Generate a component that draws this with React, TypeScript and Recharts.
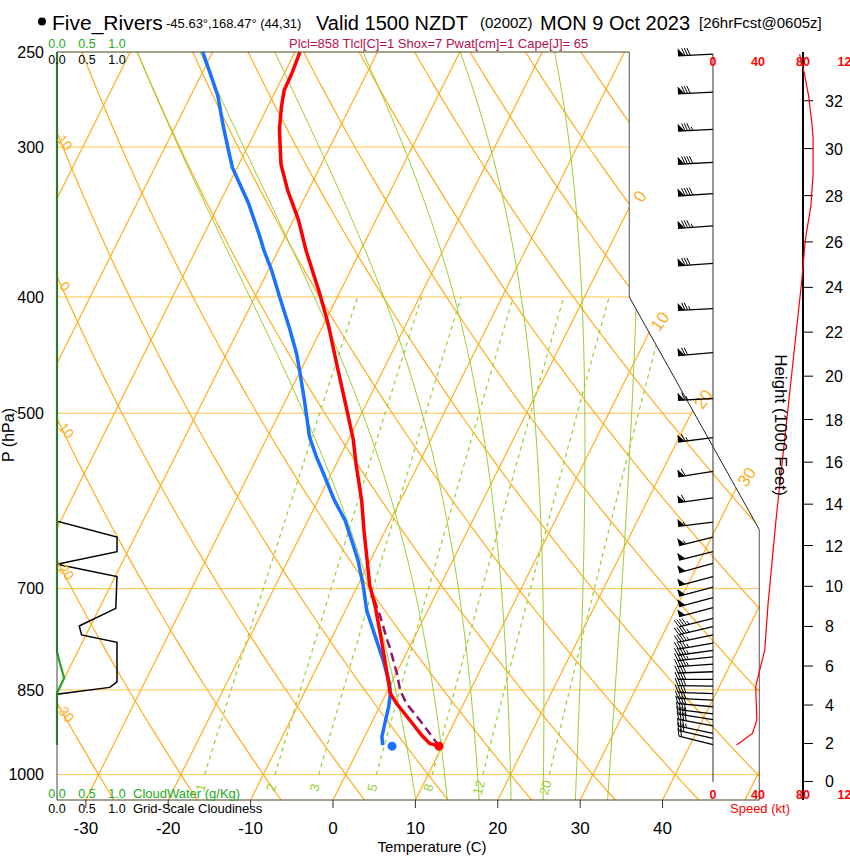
import React from 'react';
import { ComposedChart, Line, XAxis, YAxis, Scatter, ReferenceLine } from 'recharts';

// ---- sounding (hPa, deg C) ----
const TEMP_P = [250, 260, 269, 278, 290, 310, 326, 345, 366, 397, 421, 452, 488, 526, 551, 591, 626, 663, 695, 723, 773, 824, 856, 873, 901, 927, 942, 947];
const TEMP_C = [-49.4, -49.1, -49.0, -48.3, -47.2, -44.9, -42.5, -39.4, -36.6, -32.4, -29.5, -26.3, -22.8, -19.4, -17.6, -14.7, -12.6, -10.4, -8.6, -6.7, -3.8, -1.1, 0.5, 1.9, 4.5, 6.8, 8.3, 9.6];
const DEW_P = [250, 260, 272, 287, 300, 312, 322, 334, 356, 366, 380, 400, 424, 446, 463, 488, 523, 544, 561, 591, 614, 638, 663, 695, 730, 773, 803, 840, 856, 878, 904, 930, 945];
const DEW_C = [-61.2, -59.1, -56.7, -54.4, -52.4, -50.6, -48.7, -46.5, -43.1, -41.7, -39.6, -37.0, -34.0, -31.5, -29.9, -27.7, -24.9, -22.8, -21.0, -18.0, -15.5, -13.5, -11.5, -9.4, -7.4, -4.4, -2.4, -0.2, 0.5, 1.1, 1.6, 2.1, 2.7];
const PARCEL_P = [947, 930, 901, 873, 851, 824, 783, 773, 737, 713];
const PARCEL_C = [9.6, 8.2, 5.7, 3.1, 1.5, 0.1, -2.4, -3.1, -5.5, -7.3];
const SFC_P = 947;
const SFC_T = 9.6;
const SFC_TD = 3.9;

// wind speed profile (kt)
const SPD_P = [945, 924, 901, 845, 829, 788, 720, 614, 387, 359, 354, 336, 316, 295, 287, 272, 260, 251];
const SPD_KT = [21, 35, 39, 38, 40, 46, 49, 56, 79, 82, 83, 87, 89, 89, 88, 85, 81, 77];

// wind barbs
const BARB_P = [251, 270, 290, 309, 328, 349, 375, 409, 445, 486, 524, 559, 588, 616, 634, 652, 667, 684, 698, 712, 726, 741, 753, 765, 777, 788, 798, 809, 821, 833, 844, 856, 867, 878, 890, 900, 911, 924, 933, 944];
const BARB_KT = [78, 82, 86, 89, 88, 84, 80, 77, 72, 67, 63, 60, 58, 56, 53, 51, 50, 49, 49, 48, 48, 47, 47, 46, 46, 46, 45, 43, 42, 40, 39, 38, 38, 38, 39, 39, 38, 35, 30, 22];
const BARB_DIR = [267, 267, 267, 267, 266, 266, 266, 267, 265, 267, 263, 261, 262, 263, 256, 256, 255, 255, 255, 255, 255, 256, 257, 258, 260, 262, 264, 266, 268, 270, 271, 272, 273, 275, 277, 279, 281, 282, 283, 284];

// cloud profiles (0..1 cloudiness, g/kg cloud water)
const CLD_P = [250, 615, 634, 652, 668, 684, 727, 752, 765, 776, 837, 846, 857, 945];
const CLD_V = [0, 0, 1, 1, 0, 1, 0.98, 0.37, 0.41, 1, 1, 0.88, 0, 0];
const CW_P = [250, 790, 808, 831, 839, 855, 945];
const CW_V = [0, 0, 0.05, 0.12, 0.08, 0, 0];

// axes / reference families
const P_TICKS = [250, 300, 400, 500, 700, 850, 1000];
const T_TICKS = [-30, -20, -10, 0, 10, 20, 30, 40];
const ISOBARS = [300, 400, 500, 700, 850, 1000];
const ISOTHERMS = [-80, -70, -60, -50, -40, -30, -20, -10, 0, 10, 20, 30, 40, 50];
const THETAS = [-40, -30, -20, -10, 0, 10, 20, 30, 40, 50, 60, 70, 80, 90, 100, 110, 120, 130];
const THETA_W = [8, 12, 16, 20, 24, 28, 32];
const MIX_RATIOS = [1, 2, 3, 5, 8, 12, 20];
const ISOTHERM_LABELS = [0, 10, 20, 30];
const THETA_LABELS = [-30, -20, -10, 0, 10];
const HEIGHT_KFT = [0, 2, 4, 6, 8, 10, 12, 14, 16, 18, 20, 22, 24, 26, 28, 30, 32];
const SPD_TICKS = [0, 40, 80, 120];
const CLD_TICKS = [0, 0.5, 1.0];

// ---- chart geometry ----
const P_TOP = 250;
const P_BOT = 1050;
const X_MIN = -33.5;
const X_MAX = 62.75;
const SKEW = 31.63;
const X_R1 = 35.96; // right edge above 400 hPa
const X_R2 = 51.74; // right edge below 625 hPa
const P_K1 = 400;
const P_K2 = 625;
const SPD_DOM: [number, number] = [-583.1, 121.8];
const CLD_DOM: [number, number] = [0, 13.2167];

const FONT = '"Liberation Sans", Arial, Helvetica, sans-serif';
const ORANGE = '#ffae1a';
const ISOBAR = '#ffc54f';
const GREEN = '#9acd32';

type Pt = { x: number; p: number };

const skx = (t: number, p: number) => t + SKEW * Math.log(P_BOT / p);

const xRightAt = (p: number) => {
  if (p <= P_K1) return X_R1;
  if (p >= P_K2) return X_R2;
  const f = (Math.log(p) - Math.log(P_K1)) / (Math.log(P_K2) - Math.log(P_K1));
  return X_R1 + f * (X_R2 - X_R1);
};

const inside = (q: Pt) =>
  q.p >= P_TOP - 1e-9 && q.p <= P_BOT + 1e-9 && q.x >= X_MIN - 1e-9 && q.x <= xRightAt(q.p) + 1e-9;

const lerp = (a: Pt, b: Pt, t: number): Pt => ({
  x: a.x + (b.x - a.x) * t,
  p: Math.exp(Math.log(a.p) + (Math.log(b.p) - Math.log(a.p)) * t),
});

function crossing(a: Pt, b: Pt) {
  let lo = 0;
  let hi = 1;
  for (let k = 0; k < 30; k++) {
    const m = (lo + hi) / 2;
    if (inside(lerp(a, b, m))) lo = m;
    else hi = m;
  }
  return lerp(a, b, lo);
}

function clip(pts: Pt[]): Pt[][] {
  const segs: Pt[][] = [];
  let cur: Pt[] = [];
  for (let i = 0; i < pts.length; i++) {
    const a = pts[i];
    const ia = inside(a);
    if (i > 0) {
      const b = pts[i - 1];
      const ib = inside(b);
      if (ib && !ia) {
        cur.push(crossing(b, a));
        if (cur.length > 1) segs.push(cur);
        cur = [];
      } else if (!ib && ia) {
        cur.push(crossing(a, b));
      }
    }
    if (ia) cur.push(a);
  }
  if (cur.length > 1) segs.push(cur);
  return segs;
}

const levels = (p1: number, p2: number, n: number) =>
  Array.from({ length: n + 1 }, (_, i) => Math.exp(Math.log(p1) + ((Math.log(p2) - Math.log(p1)) * i) / n));

// thermodynamics for the background lines
const RD = 287.04;
const CP = 1005.7;
const LV = 2.7e6; // the chart's moist adiabats run a little warmer aloft than a plain pseudo-adiabat
const EPS = 0.622;
const esat = (tc: number) => 6.112 * Math.exp((17.67 * tc) / (tc + 243.5));
const rsat = (tc: number, p: number) => {
  const e = esat(tc);
  return (EPS * e) / (p - e);
};
const dTdlnp = (tk: number, lp: number) => {
  const r = rsat(tk - 273.15, Math.exp(lp));
  return (RD * tk + LV * r) / (CP + (LV * LV * r * EPS) / (RD * tk * tk));
};
const rk4 = (tk: number, lp: number, h: number) => {
  const k1 = dTdlnp(tk, lp);
  const k2 = dTdlnp(tk + (h * k1) / 2, lp + h / 2);
  const k3 = dTdlnp(tk + (h * k2) / 2, lp + h / 2);
  const k4 = dTdlnp(tk + h * k3, lp + h);
  return tk + (h * (k1 + 2 * k2 + 2 * k3 + k4)) / 6;
};

function moistCurve(thw: number): Pt[] {
  let tk = thw + 273.15;
  let lp = Math.log(1000);
  const down = (Math.log(P_BOT) - lp) / 5;
  for (let i = 0; i < 5; i++) {
    tk = rk4(tk, lp, down);
    lp += down;
  }
  const n = 160;
  const h = (Math.log(P_TOP) - Math.log(P_BOT)) / n;
  const out: Pt[] = [];
  for (let i = 0; i <= n; i++) {
    const p = Math.exp(lp);
    out.push({ x: skx(tk - 273.15, p), p });
    tk = rk4(tk, lp, h);
    lp += h;
  }
  return out;
}

const isothermCurve = (t: number) => levels(P_BOT, P_TOP, 80).map((p) => ({ x: skx(t, p), p }));
const dryCurve = (th: number) =>
  levels(P_BOT, P_TOP, 120).map((p) => ({ x: skx((th + 273.15) * Math.pow(p / 1000, 0.2857) - 273.15, p), p }));
const mixTd = (w: number, p: number) => {
  const l = Math.log((w * p) / (622 + w) / 6.112);
  return (243.5 * l) / (17.67 - l);
};
const mixCurve = (w: number) => levels(1000, 400, 60).map((p) => ({ x: skx(mixTd(w, p), p), p }));

const isobarSegs = ISOBARS.map((p) => [{ x: X_MIN, p }, { x: xRightAt(p), p }]);
const isothermSegs = ISOTHERMS.map((t) => clip(isothermCurve(t)));
const drySegs = THETAS.map((th) => clip(dryCurve(th)));
const moistSegs = THETA_W.map((tw) => clip(moistCurve(tw)));
const mixSegs = MIX_RATIOS.map((w) => clip(mixCurve(w)));

const lastOf = (segs: Pt[][]) => {
  const s = segs[segs.length - 1];
  return s[s.length - 1];
};
const isothermLabels = ISOTHERM_LABELS.map((t) => ({ ...lastOf(clip(isothermCurve(t))), text: String(t) }));
const thetaLabels = THETA_LABELS.map((th) => ({ ...lastOf(clip(dryCurve(th))), text: String(th) }));
const mixLabels = MIX_RATIOS.map((w) => ({ x: skx(mixTd(w, 1000), 1000), p: 1000, text: String(w) }));

const tempData = TEMP_P.map((p, i) => ({ x: skx(TEMP_C[i], p), p }));
const dewData = DEW_P.map((p, i) => ({ x: skx(DEW_C[i], p), p }));
const parcelData = PARCEL_P.map((p, i) => ({ x: skx(PARCEL_C[i], p), p }));
const spdData = SPD_P.map((p, i) => ({ x: SPD_KT[i], p }));
const cldData = CLD_P.map((p, i) => ({ x: CLD_V[i], p }));
const cwData = CW_P.map((p, i) => ({ x: CW_V[i], p }));
const barbData = BARB_P.map((p, i) => ({ x: 0, p, spd: BARB_KT[i], dir: BARB_DIR[i] }));

const stdP = (kft: number) => 1013.25 * Math.pow(1 - 2.25577e-5 * kft * 304.8, 5.25588);
const heightData = HEIGHT_KFT.map((h) => ({ x: 99.6, p: stdP(h), text: String(h) }));

type TextStyle = { dx: number; dy: number; size: number; color: string; anchor?: string; rotate?: number; weight?: string; central?: boolean };

function textShape(st: TextStyle) {
  return (props: any) => {
    const { cx, cy, payload } = props;
    if (cx == null || cy == null) return <g />;
    const x = cx + st.dx;
    const y = cy + st.dy;
    return (
      <text
        x={x}
        y={y}
        fontSize={st.size}
        fill={st.color}
        fontWeight={st.weight}
        fontFamily={FONT}
        textAnchor={st.anchor ?? 'middle'}
        dominantBaseline={st.central ? 'central' : undefined}
        transform={st.rotate ? `rotate(${st.rotate} ${x} ${y})` : undefined}
      >
        {payload.text}
      </text>
    );
  };
}

function barbShape(props: any) {
  const { cx, cy, payload } = props;
  if (cx == null || cy == null) return <g />;
  const d = (payload.dir * Math.PI) / 180;
  const ux = Math.sin(d);
  const uy = -Math.cos(d);
  const nx = -uy;
  const ny = ux;
  const L = 35;
  const h = 7.5;
  const tx = cx + ux * L;
  const ty = cy + uy * L;
  const at = (s: number) => [tx - ux * s, ty - uy * s];
  const parts: React.ReactNode[] = [];
  let s = Math.round(payload.spd / 5) * 5;
  let pos = 0;
  let k = 0;
  while (s >= 50) {
    const [ax, ay] = at(pos);
    const [cx2, cy2] = at(pos + 6.5);
    parts.push(<polygon key={k++} points={`${ax},${ay} ${ax + nx * h},${ay + ny * h} ${cx2},${cy2}`} fill="#000" />);
    pos += 7;
    s -= 50;
  }
  while (s >= 10) {
    const [ax, ay] = at(pos);
    parts.push(<line key={k++} x1={ax} y1={ay} x2={ax + nx * h + ux * 3} y2={ay + ny * h + uy * 3} stroke="#000" strokeWidth={1} />);
    pos += 2.6;
    s -= 10;
  }
  if (s >= 5) {
    if (pos === 0) pos = 3;
    const [ax, ay] = at(pos);
    parts.push(<line key={k++} x1={ax} y1={ay} x2={ax + (nx * h + ux * 3) / 2} y2={ay + (ny * h + uy * 3) / 2} stroke="#000" strokeWidth={1} />);
  }
  return (
    <g>
      <line x1={cx} y1={cy} x2={tx} y2={ty} stroke="#000" strokeWidth={1.3} />
      {parts}
    </g>
  );
}

const dotShape = (color: string) => (props: any) =>
  props.cx == null ? <g /> : <circle cx={props.cx} cy={props.cy} r={4.5} fill={color} />;

function gridLines(segs: Pt[][], key: string, color: string, width: number, dash?: string) {
  return segs.map((seg, i) => (
    <Line
      key={`${key}-${i}`}
      xAxisId="t"
      data={seg}
      dataKey="p"
      stroke={color}
      strokeWidth={width}
      strokeDasharray={dash}
      dot={false}
      activeDot={false}
      isAnimationActive={false}
      type="linear"
    />
  ));
}

export default function App() {
  const spdTop = SPD_TICKS.map((v) => ({ x: v, p: P_TOP, text: String(v) }));
  const spdBot = SPD_TICKS.map((v) => ({ x: v, p: P_BOT, text: String(v) }));
  const cldTop = CLD_TICKS.map((v) => ({ x: v, p: P_TOP, text: v.toFixed(1) }));
  const cldBot = CLD_TICKS.map((v) => ({ x: v, p: P_BOT, text: v.toFixed(1) }));

  return (
    <div style={{ position: 'relative', width: 850, height: 860, fontFamily: FONT, background: '#fff' }}>
      <style>{'body{margin:0;background:#fff}'}</style>
      <ComposedChart width={850} height={860} margin={{ top: 52, right: 0, bottom: 0, left: 0 }}>
        <XAxis
          xAxisId="t"
          type="number"
          dataKey="x"
          domain={[X_MIN, X_MAX]}
          ticks={T_TICKS}
          interval={0}
          height={60}
          axisLine={false}
          tickLine={{ stroke: '#333' }}
          tickSize={8}
          tickMargin={14}
          tick={{ fontSize: 17, fill: '#000', fontFamily: FONT }}
        />
        <XAxis xAxisId="spd" orientation="top" height={0} type="number" dataKey="x" domain={SPD_DOM} hide />
        <XAxis xAxisId="cld" orientation="top" height={0} type="number" dataKey="x" domain={CLD_DOM} hide />
        <YAxis
          type="number"
          dataKey="p"
          scale="log"
          domain={[P_TOP, P_BOT]}
          reversed
          ticks={P_TICKS}
          interval={0}
          width={57}
          axisLine={false}
          tickLine={false}
          tickSize={6}
          tickMargin={7}
          tick={{ fontSize: 16, fill: '#000', fontFamily: FONT }}
        />

        {gridLines(isobarSegs, 'isobar', ISOBAR, 1)}
        {gridLines(isothermSegs.flat(), 'isotherm', ORANGE, 1.2)}
        {gridLines(drySegs.flat(), 'dry', ORANGE, 1.2)}
        {gridLines(moistSegs.flat(), 'moist', GREEN, 1)}
        {gridLines(mixSegs.flat(), 'mix', GREEN, 1.2, '4 4')}

        <Scatter xAxisId="t" data={isothermLabels} isAnimationActive={false}
          shape={textShape({ dx: 11, dy: -11, size: 17, color: ORANGE, rotate: -55, central: true })} />
        <Scatter xAxisId="t" data={thetaLabels} isAnimationActive={false}
          shape={textShape({ dx: 8, dy: 10, size: 14, color: ORANGE, rotate: 52, central: true })} />
        <Scatter xAxisId="t" data={mixLabels} isAnimationActive={false}
          shape={textShape({ dx: -4, dy: 13, size: 13, color: GREEN, rotate: -75, central: true })} />

        <Line xAxisId="cld" data={cldData} dataKey="p" stroke="#000" strokeWidth={1.5} dot={false} activeDot={false} isAnimationActive={false} type="linear" />
        <Line xAxisId="cld" data={cwData} dataKey="p" stroke="#22aa22" strokeWidth={2.2} dot={false} activeDot={false} isAnimationActive={false} type="linear" />

        <Line xAxisId="t" data={dewData} dataKey="p" stroke="#1a72ff" strokeWidth={3.5} dot={false} activeDot={false} isAnimationActive={false} type="linear" />
        <Line xAxisId="t" data={parcelData} dataKey="p" stroke="#8b1a6b" strokeWidth={2.5} strokeDasharray="9 5" dot={false} activeDot={false} isAnimationActive={false} type="linear" />
        <Line xAxisId="t" data={tempData} dataKey="p" stroke="#ff0000" strokeWidth={3.5} dot={false} activeDot={false} isAnimationActive={false} type="linear" />
        <Scatter xAxisId="t" data={[{ x: skx(SFC_T, SFC_P), p: SFC_P }]} isAnimationActive={false} shape={dotShape('#ff0000')} />
        <Scatter xAxisId="t" data={[{ x: skx(SFC_TD, SFC_P), p: SFC_P }]} isAnimationActive={false} shape={dotShape('#1a72ff')} />

        {/* plot frame */}
        <ReferenceLine xAxisId="t" segment={[{ x: X_MIN, y: P_TOP }, { x: X_R1, y: P_TOP }]} stroke="#4d4422" strokeWidth={1.2} ifOverflow="visible" />
        <ReferenceLine xAxisId="t" segment={[{ x: X_MIN, y: P_BOT }, { x: X_R2, y: P_BOT }]} stroke="#4d4422" strokeWidth={1.2} ifOverflow="visible" />
        <ReferenceLine xAxisId="t" segment={[{ x: X_MIN, y: P_TOP }, { x: X_MIN, y: P_BOT }]} stroke="#444" strokeWidth={1} ifOverflow="visible" />
        <ReferenceLine xAxisId="t" segment={[{ x: X_R1, y: P_TOP }, { x: X_R1, y: P_K1 }]} stroke="#555" strokeWidth={1} ifOverflow="visible" />
        <ReferenceLine xAxisId="t" segment={[{ x: X_R1, y: P_K1 }, { x: X_R2, y: P_K2 }]} stroke="#222" strokeWidth={1} ifOverflow="visible" />
        <ReferenceLine xAxisId="t" segment={[{ x: X_R2, y: P_K2 }, { x: X_R2, y: P_BOT }]} stroke="#555" strokeWidth={1} ifOverflow="visible" />

        {/* cloud axes labels */}
        <Scatter xAxisId="cld" data={cldTop} isAnimationActive={false} shape={textShape({ dx: 0, dy: -4, size: 12.5, color: '#22aa22' })} />
        <Scatter xAxisId="cld" data={cldTop} isAnimationActive={false} shape={textShape({ dx: 0, dy: 11.5, size: 12.5, color: '#000' })} />
        <Scatter xAxisId="cld" data={cldBot} isAnimationActive={false} shape={textShape({ dx: 0, dy: -2, size: 12.5, color: '#22aa22' })} />
        <Scatter xAxisId="cld" data={cldBot} isAnimationActive={false} shape={textShape({ dx: 0, dy: 12.5, size: 12.5, color: '#000' })} />

        {/* wind panel */}
        <ReferenceLine xAxisId="spd" segment={[{ x: 0, y: 251 }, { x: 0, y: 1014 }]} stroke="#333" strokeWidth={1} ifOverflow="visible" />
        <ReferenceLine xAxisId="spd" segment={[{ x: 80, y: P_TOP }, { x: 80, y: P_BOT }]} stroke="#000" strokeWidth={2} ifOverflow="visible" />
        {heightData.map((d) => (
          <ReferenceLine key={`ht-${d.text}`} xAxisId="spd" segment={[{ x: 80, y: d.p }, { x: 88.9, y: d.p }]} stroke="#000" strokeWidth={1} ifOverflow="visible" />
        ))}
        <Scatter xAxisId="spd" data={heightData} isAnimationActive={false} shape={textShape({ dx: 0, dy: 6, size: 16, color: '#000', anchor: 'start' })} />
        <Line xAxisId="spd" data={spdData} dataKey="p" stroke="#ff0000" strokeWidth={1.2} dot={false} activeDot={false} isAnimationActive={false} type="linear" />
        <Scatter xAxisId="spd" data={barbData} isAnimationActive={false} shape={barbShape} />
        <Scatter xAxisId="spd" data={spdTop} isAnimationActive={false} shape={textShape({ dx: 0, dy: 14, size: 12.5, color: '#ff0000', weight: 'bold' })} />
        <Scatter xAxisId="spd" data={spdBot} isAnimationActive={false} shape={textShape({ dx: 0, dy: -1, size: 12.5, color: '#ff0000', weight: 'bold' })} />
      </ComposedChart>

      <svg width={850} height={860} style={{ position: 'absolute', left: 0, top: 0, pointerEvents: 'none' }} fontFamily={FONT}>
        <circle cx={42} cy={21.5} r={4} fill="#000" />
        <text x={52} y={30} fontSize={21}>Five_Rivers</text>
        <text x={166} y={28} fontSize={13}>-45.63°,168.47° (44,31)</text>
        <text x={316} y={30} fontSize={20}>Valid 1500 NZDT</text>
        <text x={480} y={28} fontSize={15}>(0200Z)</text>
        <text x={540} y={30} fontSize={20}>MON 9 Oct 2023</text>
        <text x={699} y={28} fontSize={15}>[26hrFcst@0605z]</text>
        <text x={289} y={48} fontSize={13} fill="#b3124f">Plcl=858 Tlcl[C]=1 Shox=7 Pwat[cm]=1 Cape[J]= 65</text>
        <text x={133} y={798} fontSize={13} fill="#22aa22">CloudWater (g/Kg)</text>
        <text x={133} y={813} fontSize={13} fill="#000">Grid-Scale Cloudiness</text>
        <text x={760} y={813} fontSize={13} fill="#ff0000" textAnchor="middle">Speed (kt)</text>
        <text x={432} y={852} fontSize={15} textAnchor="middle">Temperature (C)</text>
        <text x={14} y={435} fontSize={16} textAnchor="middle" transform="rotate(-90 14 435)">P (hPa)</text>
        <text x={775} y={425} fontSize={17} textAnchor="middle" transform="rotate(90 775 425)">Height (1000 Feet)</text>
      </svg>
    </div>
  );
}
